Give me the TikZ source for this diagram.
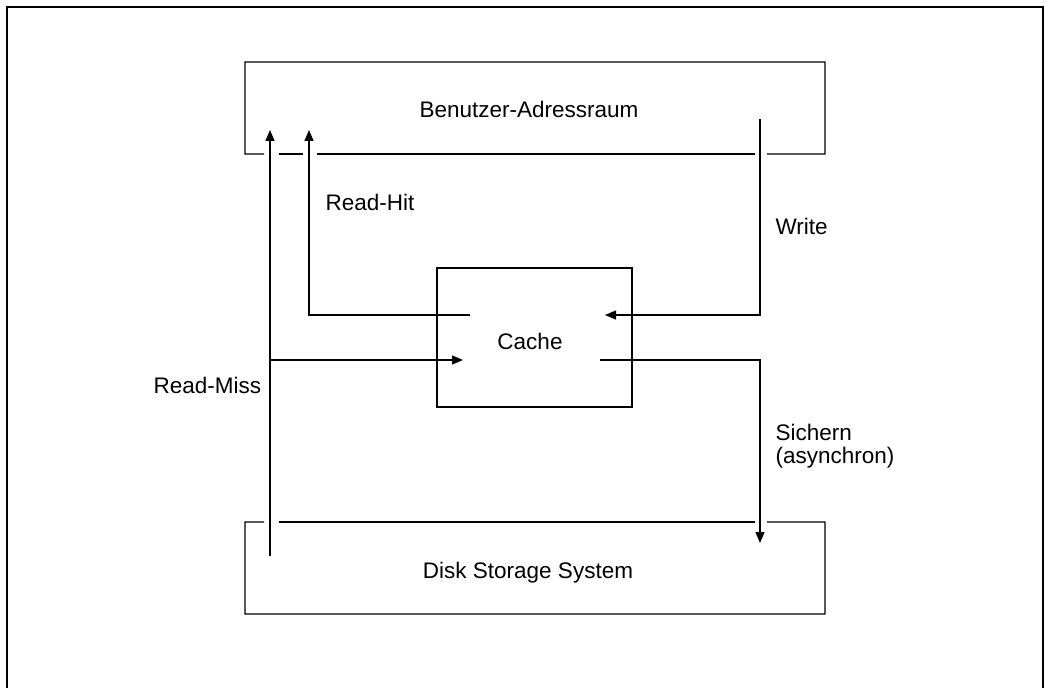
\documentclass[tikz,border=0pt]{standalone}
\usepackage{fontspec}
\setmainfont{Liberation Sans}
\usetikzlibrary{arrows.meta,positioning}

\begin{document}
\begin{tikzpicture}[x=1bp,y=-1bp,>={Triangle[length=11bp,width=9bp]},
  line width=1.3bp,
  every node/.style={font=\fontsize{22.5bp}{22.5bp}\selectfont,inner sep=0pt},
  area/.style={minimum width=580bp,minimum height=92bp,outer sep=0pt},
  cachebox/.style={draw,minimum width=195bp,minimum height=139bp}]
\useasboundingbox (0,0) rectangle (1049,688);
\draw[line width=2.2bp] (7,690) -- (7,7) -- (1043,7) -- (1043,690);
% the two storage areas, open where the lines pass
\node[area] (user) at (535,108) {};
\node[area] (disk) at (535,568) {};
\node[anchor=base] (usertext) at (529,118) {Benutzer-Adressraum};
\node[anchor=base] (disktext) at (528,578) {Disk Storage System};
\draw (264,154) -| (user.north west) -| (user.south east) -- (767,154);
\draw (279,154) -- (303,154);
\draw (317,154) -- (755,154);
\draw (264,522) -| (disk.south west) -| (disk.north east) -- (767,522);
\draw (279,522) -- (755,522);
\node[cachebox] (cache) at (534.5,337.5) {};
\node[anchor=base] (cachetext) at (530,349) {Cache};
% connectors
\coordinate (miss) at (270,556);
\coordinate (missup) at (270,130);
\coordinate (missin) at (463,360);
\coordinate (hitout) at (470,315);
\coordinate (hitup) at (309,130);
\coordinate (wrin) at (760,119);
\coordinate (wrout) at (605,315);
\coordinate (saveout) at (600,360);
\coordinate (savedown) at (760,543);
\draw[->] (miss) -- (missup);
\draw[->] (miss |- missin) -- (missin);
\draw[->] (hitout) -| (hitup);
\draw[->] (wrin) |- (wrout);
\draw[->] (saveout) -| (savedown);
\node[anchor=base west] (hitlabel) at (325,210) {Read-Hit};
\node[anchor=base west] (wrlabel) at (775,234) {Write};
\node[anchor=base west] (misslabel) at (153,393) {Read-Miss};
\node[anchor=base west,align=left] (savelabel) at (775,463) {Sichern\\(asynchron)};
\end{tikzpicture}
\end{document}
